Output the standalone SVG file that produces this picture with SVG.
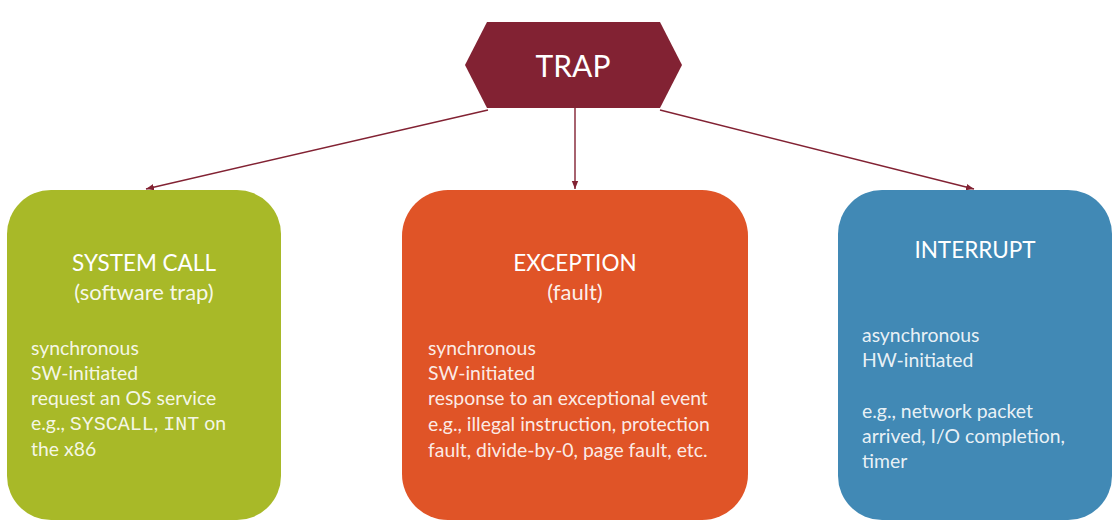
<svg xmlns="http://www.w3.org/2000/svg" width="1120" height="527" viewBox="0 0 1120 527">
<style>
.t{font-family:Lato,"Open Sans","Liberation Sans",sans-serif;fill:#ffffff}
.title{font-size:22.5px;text-anchor:middle}
.sub{font-size:22px;text-anchor:middle;fill-opacity:0.92}
.body{font-size:19.4px;fill-opacity:0.9}
.mono{font-family:"Liberation Mono","Courier New",monospace;font-size:20px}
.conn{stroke:#822233;stroke-width:1.4;fill:none}
</style>
<defs>
<marker id="ah" viewBox="0 0 10 10" refX="10" refY="5" markerWidth="8" markerHeight="8" markerUnits="userSpaceOnUse" orient="auto">
<path d="M0,1 L10,5 L0,9 z" fill="#822233"/>
</marker>
</defs>
<rect width="1120" height="527" fill="#ffffff"/>
<g id="connectors">
<line class="conn" x1="488" y1="110" x2="146" y2="189" marker-end="url(#ah)"/>
<line class="conn" x1="575" y1="108" x2="575" y2="189" marker-end="url(#ah)"/>
<line class="conn" x1="660" y1="110" x2="974" y2="189" marker-end="url(#ah)"/>
</g>
<g id="trap">
<polygon points="487,22 660,22 682,65 660,108 487,108 465,65" fill="#822233"/>
<text class="t" x="573" y="77" font-size="30" text-anchor="middle">TRAP</text>
</g>
<g id="syscall">
<rect x="7" y="190" width="274" height="330" rx="44" fill="#A8B928"/>
<text class="t title" x="144" y="271">SYSTEM CALL</text>
<text class="t sub" x="144" y="300">(software trap)</text>
<text class="t body" x="31" y="355">synchronous</text>
<text class="t body" x="31" y="380">SW-initiated</text>
<text class="t body" x="31" y="405">request an OS service</text>
<text class="t body" x="31" y="430">e.g., <tspan class="mono">SYSCALL</tspan>, <tspan class="mono">INT</tspan> on</text>
<text class="t body" x="31" y="456">the x86</text>
</g>
<g id="exception">
<rect x="402" y="190" width="346" height="330" rx="46" fill="#E05427"/>
<text class="t title" x="575" y="271">EXCEPTION</text>
<text class="t sub" x="575" y="300">(fault)</text>
<text class="t body" x="428" y="355">synchronous</text>
<text class="t body" x="428" y="380">SW-initiated</text>
<text class="t body" x="428" y="405">response to an exceptional event</text>
<text class="t body" x="428" y="431">e.g., illegal instruction, protection</text>
<text class="t body" x="428" y="457">fault, divide-by-0, page fault, etc.</text>
</g>
<g id="interrupt">
<rect x="838" y="190" width="274" height="330" rx="44" fill="#4189B5"/>
<text class="t title" x="975" y="258">INTERRUPT</text>
<text class="t body" x="862" y="342">asynchronous</text>
<text class="t body" x="862" y="367">HW-initiated</text>
<text class="t body" x="862" y="418">e.g., network packet</text>
<text class="t body" x="862" y="443">arrived, I/O completion,</text>
<text class="t body" x="862" y="468">timer</text>
</g>
</svg>
